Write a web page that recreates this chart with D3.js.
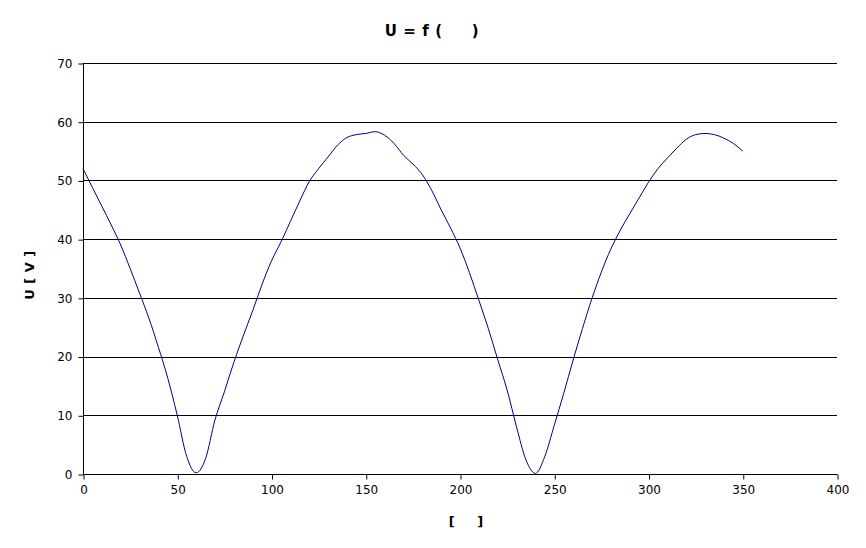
<!DOCTYPE html>
<html><head><meta charset="utf-8">
<script src="https://cdn.jsdelivr.net/npm/d3@7"></script>
<style>body{margin:0;background:#fff}svg{display:block}text{font-family:"DejaVu Sans",sans-serif}</style>
</head><body><svg id="c" width="866" height="548"></svg>
<script>
const angles = [0,5,10,15,20,25,30,35,40,45,50,55,60,65,70,75,80,85,90,95,100,105,110,115,120,125,130,135,140,145,150,155,160,165,170,175,180,185,190,195,200,205,210,215,220,225,230,235,240,245,250,255,260,265,270,275,280,285,290,295,300,305,310,315,320,325,330,335,340,345,350];
const voltages = [52,48.8,45.6,42.4,39,35,30.8,26.5,21.6,16.3,10,3,0.2,2.6,9.2,14,19,23.5,27.8,32.3,36.3,39.5,43,46.5,49.8,52,54,56,57.3,57.8,58,58.3,57.7,56.3,54.3,52.8,51,48.3,45,41.9,38.5,34.3,29.6,24.8,19.5,14.3,8,2.4,0.1,3,8.3,13.7,19.4,24.8,29.9,34.4,38.3,41.5,44.3,47,49.7,52,53.8,55.5,57,57.8,58,57.8,57.2,56.3,55];
const xTicks = [0,50,100,150,200,250,300,350,400];
const yTicks = [0,10,20,30,40,50,60,70];
const title = "U = f (     )";
const xLabel = "[     ]";
const yLabel = "U [ V ]";

const svg = d3.select("#c");
const L=83,R=837,T=63,B=474;
const x = d3.scaleLinear().domain([0,400]).range([L,R]);
const y = d3.scaleLinear().domain([0,70]).range([B,T]);

svg.append("g").selectAll("line").data(yTicks.filter(d=>d>0)).join("line")
  .attr("x1",L).attr("x2",R).attr("y1",d=>Math.round(y(d))+0.5).attr("y2",d=>Math.round(y(d))+0.5)
  .attr("stroke","#000").attr("stroke-width",1);

const ya = svg.append("g").attr("transform",`translate(${L+0.5},0.5)`)
  .call(d3.axisLeft(y).tickValues(yTicks).tickSize(5).tickPadding(6).tickFormat(d3.format("d")));
const xa = svg.append("g").attr("transform",`translate(0.5,${B+0.5})`)
  .call(d3.axisBottom(x).tickValues(xTicks).tickSize(5).tickPadding(6).tickFormat(d3.format("d")));
[ya,xa].forEach(a=>{a.select(".domain").attr("stroke","#000");a.selectAll(".tick line").attr("stroke","#000");
  a.selectAll("text").attr("font-family","DejaVu Sans").attr("font-size",12).attr("fill","#000");});
ya.select(".domain").attr("d",`M0,${T}V${B}`);
xa.select(".domain").attr("d",`M${L},0H${R}`);

const line = d3.line().x((d,i)=>x(angles[i])).y(d=>y(d)).curve(d3.curveMonotoneX);
svg.append("path").datum(voltages).attr("d",line).attr("fill","none").attr("stroke","#000080").attr("stroke-width",1);

svg.append("text").attr("x",432).attr("y",36).attr("text-anchor","middle").attr("font-size",15).attr("font-weight","bold")
  .attr("letter-spacing","0.6px").style("white-space","pre").text(title);
svg.append("text").attr("x",466).attr("y",526).attr("text-anchor","middle").attr("font-size",13).attr("font-weight","bold")
  .style("white-space","pre").text(xLabel);
svg.append("text").attr("transform","translate(34,275) rotate(-90)").attr("text-anchor","middle").attr("font-size",13).attr("font-weight","bold")
  .attr("letter-spacing","0.5px").style("white-space","pre").text(yLabel);
</script></body></html>
